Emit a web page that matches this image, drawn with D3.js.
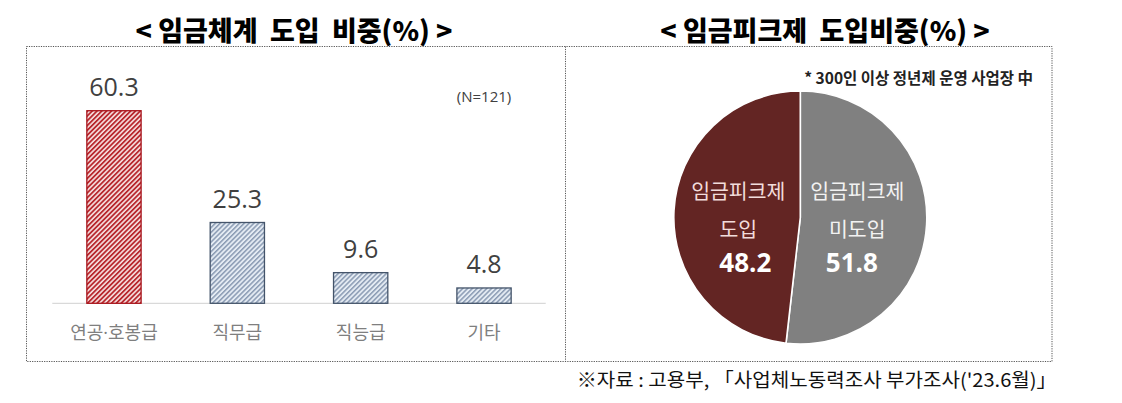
<!DOCTYPE html>
<html><head><meta charset="utf-8">
<script src="https://cdn.jsdelivr.net/npm/d3@7"></script>
<style>
html,body{margin:0;padding:0;background:#fff;}
svg{display:block;}
</style></head>
<body>
<svg id="c" width="1122" height="403"></svg>
<script>
// ---- data ----
const barCategories = ["연공·호봉급", "직무급", "직능급", "기타"];
const barValues = [60.3, 25.3, 9.6, 4.8];
const barTitle = "< 임금체계  도입  비중(%) >";
const barNote = "(N=121)";

const pieCategories = ["임금피크제 도입", "임금피크제 미도입"];
const pieLines = [["임금피크제", "도입"], ["임금피크제", "미도입"]];
const pieValues = [48.2, 51.8];
const pieTitle = "< 임금피크제  도입비중(%) >";
const pieNote = "* 300인 이상 정년제 운영 사업장 中";
const sourceText = "※자료 : 고용부, 「사업체노동력조사 부가조사('23.6월)」";

// ---- setup ----
const svg = d3.select("#c");
svg.append("rect").attr("width",1122).attr("height",403).attr("fill","#fff");
const defs = svg.append("defs");

function hatch(id, bg, line, w){
  const p = defs.append("pattern").attr("id", id)
    .attr("patternUnits","userSpaceOnUse").attr("width",3.4).attr("height",3.4)
    .attr("patternTransform","rotate(45)");
  p.append("rect").attr("width",3.4).attr("height",3.4).attr("fill",bg);
  p.append("rect").attr("x",0).attr("y",0).attr("width",w).attr("height",3.4).attr("fill",line);
}
hatch("hRed", "#f6e0e0", "#b8282e", 1.8);
hatch("hBlue", "#e4ebf3", "#8a9bb3", 1.5);

// ---- frame ----
const frame = svg.append("g").attr("fill","none").attr("stroke","#555").attr("stroke-width",1).attr("stroke-dasharray","1.2,1.2");
frame.append("rect").attr("x",26.5).attr("y",46.5).attr("width",1025.5).attr("height",315);
frame.append("line").attr("x1",565.5).attr("x2",565.5).attr("y1",46.5).attr("y2",361.5);

// ---- titles ----
const titleFont = "'Noto Sans CJK KR', sans-serif";
svg.append("text").attr("x",294).attr("y",29.5).attr("text-anchor","middle").attr("dominant-baseline","central")
  .attr("font-family",titleFont).attr("font-weight",900).attr("font-size",27).attr("fill","#000")
  .attr("style","white-space:pre").text(barTitle);
svg.append("text").attr("x",825).attr("y",29.5).attr("text-anchor","middle").attr("dominant-baseline","central")
  .attr("font-family",titleFont).attr("font-weight",900).attr("font-size",27).attr("fill","#000")
  .attr("style","white-space:pre").text(pieTitle);

// ---- bar chart ----
const x = d3.scaleBand().domain(barCategories).range([52.3, 545.7]).paddingInner(0.56).paddingOuter(0.28);
const y = d3.scaleLinear().domain([0, 70]).range([303.3, 303.3 - 70*3.194]);

svg.append("line").attr("x1",52.3).attr("x2",545.7).attr("y1",y(0)).attr("y2",y(0))
  .attr("stroke","#d9d9d9").attr("stroke-width",1.2);

const bars = svg.append("g");
bars.selectAll("rect").data(barValues).join("rect")
  .attr("x",(d,i)=>x(barCategories[i]))
  .attr("y",d=>y(d))
  .attr("width",x.bandwidth())
  .attr("height",d=>y(0)-y(d))
  .attr("fill",(d,i)=> i===0 ? "url(#hRed)" : "url(#hBlue)")
  .attr("stroke",(d,i)=> i===0 ? "#a8161d" : "#44546a")
  .attr("stroke-width",1.3);

bars.selectAll("text.v").data(barValues).join("text").attr("class","v")
  .attr("x",(d,i)=>x(barCategories[i])+x.bandwidth()/2)
  .attr("y",d=>y(d)-14.5)
  .attr("text-anchor","middle")
  .attr("font-family","'Open Sans', sans-serif").attr("font-size",25).attr("fill","#404040")
  .text(d=>d.toFixed(1));

const xAxis = svg.append("g").attr("transform",`translate(0,${y(0)})`)
  .call(d3.axisBottom(x).tickSize(0).tickPadding(0));
xAxis.select(".domain").remove();
xAxis.selectAll("text").attr("y",28.4).attr("dy",null).attr("dominant-baseline","central")
  .attr("font-family","'Open Sans', 'Noto Sans CJK KR', sans-serif").attr("font-size",18).attr("fill","#7f7f7f");

svg.append("text").attr("x",484).attr("y",96).attr("text-anchor","middle").attr("dominant-baseline","central")
  .attr("font-family","'Open Sans', sans-serif").attr("font-size",15).attr("fill","#404040").text(barNote);

// ---- pie ----
const cx = 800.3, cy = 217.5, R = 126.5;
const pieColors = ["#632523", "#808080"];
const pieTextColors = ["#f2dcdb", "#f2f2f2"];
const order = [1, 0]; // 미도입 from 12 o'clock clockwise, then 도입
const pie = d3.pie().sort(null).value(i=>pieValues[i]);
const arcs = pie(order);
const arc = d3.arc().innerRadius(0).outerRadius(R);
const pg = svg.append("g").attr("transform",`translate(${cx},${cy})`);
pg.selectAll("path").data(arcs).join("path")
  .attr("d",arc).attr("fill",d=>pieColors[d.data])
  .attr("stroke","#fff").attr("stroke-width",1.6).attr("stroke-linejoin","round");

const lineDy = [-27.5, 10.8];
arcs.forEach(a=>{
  const i = a.data;
  const lx = i===0 ? -62 : 57;
  pieLines[i].forEach((t,k)=>{
    pg.append("text").attr("x",lx).attr("y",lineDy[k]).attr("text-anchor","middle").attr("dominant-baseline","central")
      .attr("font-family","'Noto Sans CJK KR', sans-serif").attr("font-size",20.5).attr("fill",pieTextColors[i]).text(t);
  });
  pg.append("text").attr("x", i===0 ? -55 : 51.5).attr("y",44.5).attr("text-anchor","middle").attr("dominant-baseline","central")
    .attr("font-family","'Open Sans', sans-serif").attr("font-weight",700).attr("font-size",26).attr("fill","#fff")
    .text(pieValues[i].toFixed(1));
});

svg.append("text").attr("x",1033).attr("y",77).attr("text-anchor","end").attr("dominant-baseline","central")
  .attr("font-family","'Noto Sans CJK KR', sans-serif").attr("font-weight",700).attr("font-size",15.5).attr("fill","#222").text(pieNote);

// ---- source ----
svg.append("text").attr("x",576.7).attr("y",378.5).attr("dominant-baseline","central")
  .attr("font-family","'Noto Sans CJK KR', sans-serif").attr("font-size",19).attr("fill","#111")
  .attr("textLength",480).attr("lengthAdjust","spacingAndGlyphs").text(sourceText);
</script>
</body></html>
